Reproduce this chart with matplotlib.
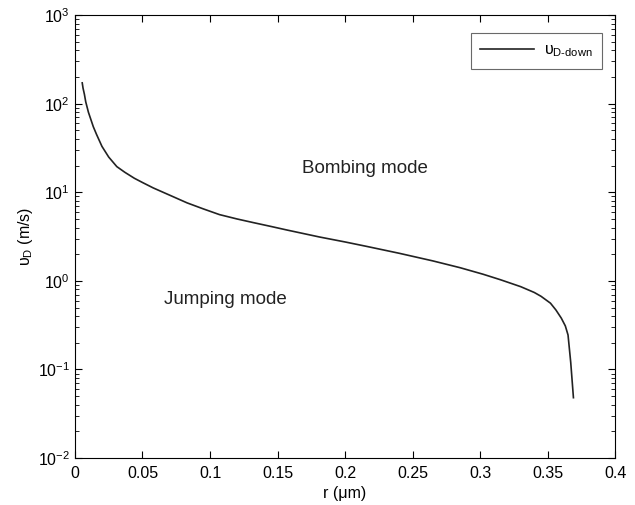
import numpy as np
import matplotlib
matplotlib.use('Agg')
import matplotlib.pyplot as plt
from matplotlib.ticker import LogLocator, NullFormatter

plt.rcParams['font.family'] = ['Liberation Sans', 'DejaVu Sans']
plt.rcParams['mathtext.fontset'] = 'custom'
plt.rcParams['mathtext.rm'] = 'Liberation Sans'
plt.rcParams['mathtext.it'] = 'Liberation Sans:italic'

# values
r = [0.0054, 0.006, 0.007, 0.008, 0.010, 0.012, 0.0136, 0.016, 0.020, 0.025,
     0.031, 0.037, 0.044, 0.050, 0.058, 0.070, 0.083, 0.095, 0.107, 0.120,
     0.132, 0.145, 0.157, 0.170, 0.181, 0.200, 0.216, 0.240, 0.265, 0.285,
     0.302, 0.315, 0.330, 0.340, 0.345, 0.352, 0.356, 0.360, 0.363, 0.365,
     0.367, 0.369]
v = [172, 150, 128, 105, 80, 65, 55, 45, 33, 25,
     19.5, 16.8, 14.4, 12.9, 11.2, 9.3, 7.6, 6.5, 5.6, 5.0,
     4.55, 4.12, 3.75, 3.4, 3.13, 2.75, 2.45, 2.05, 1.68, 1.41,
     1.19, 1.03, 0.86, 0.74, 0.67, 0.56, 0.47, 0.38, 0.31, 0.245,
     0.12, 0.048]

labels = ['Bombing mode', 'Jumping mode']
label_pos = [(0.215, 18.6), (0.111, 0.61)]

xticks = [0, 0.05, 0.1, 0.15, 0.2, 0.25, 0.3, 0.35, 0.4]
xticklabels = ['0', '0.05', '0.1', '0.15', '0.2', '0.25', '0.3', '0.35', '0.4']

fig = plt.figure(figsize=(6.35, 5.05), dpi=100)
ax = fig.add_axes([0.118, 0.093, 0.851, 0.877])

ax.semilogy(r, v, color='#222222', linewidth=1.2,
            label=r'$\mathrm{\upsilon}_{\mathrm{D\text{-}down}}$')

for txt, (x, y) in zip(labels, label_pos):
    ax.text(x, y, txt, fontsize=13.5, ha='center', va='center', color='#222222')

ax.set_xlim(0, 0.4)
ax.set_ylim(1e-2, 1e3)
ax.set_xticks(xticks)
ax.set_xticklabels(xticklabels)
ax.yaxis.set_minor_locator(LogLocator(base=10, subs=np.arange(2, 10), numticks=20))
ax.yaxis.set_minor_formatter(NullFormatter())

ax.tick_params(which='both', direction='in', top=True, right=True, labelsize=11.5)
ax.tick_params(which='major', length=5)
ax.tick_params(which='minor', length=3)
ax.tick_params(axis='x', pad=6)

ax.set_xlabel('r (μm)', fontsize=11.5, labelpad=3)
ax.set_ylabel(r'$\mathrm{\upsilon}_{\mathrm{D}}$ (m/s)', fontsize=11.5, labelpad=2)

leg = ax.legend(loc='upper right', fontsize=11.5, fancybox=False, handlelength=3.4,
                borderpad=0.6, borderaxespad=0, handletextpad=0.6,
                bbox_to_anchor=(0.976, 0.96))
leg.get_frame().set_edgecolor('#444444')
leg.get_frame().set_linewidth(0.8)

plt.savefig('out.png', dpi=100)
